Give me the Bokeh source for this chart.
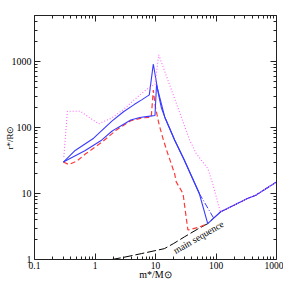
from bokeh.plotting import figure
from bokeh.models import LogAxis, FixedTicker, Label, Range1d, CustomJSTickFormatter
from bokeh.embed import file_html
from bokeh.resources import INLINE

# ---- data ----
ms_m = [1.9, 3.0, 5.9, 14, 20, 30, 50, 73, 118, 331, 453, 1000]
ms_r = [1.0, 1.08, 1.23, 1.46, 1.75, 2.2, 2.9, 3.5, 5.25, 8.4, 9.4, 15]

red_m = [0.3, 0.37, 0.5, 0.7, 1.3, 2.3, 3.9, 6.0, 8.5, 9.2, 10.0, 11.5, 13.5, 16, 20.7, 22, 28.5, 34.3, 53, 73]
red_r = [30, 27.5, 31, 40, 60, 93, 127, 140, 144, 370, 200, 110, 65, 40, 20, 15, 10, 2.8, 3.1, 3.5]

blue_a_m = [0.3, 0.47, 0.95, 1.9, 3.0, 4.5, 5.9, 7.9, 9.2, 11.1, 12.5, 14.2, 20.7, 30, 53, 73, 118, 331, 453, 1000]
blue_a_r = [30, 45, 69, 125, 175, 225, 263, 313, 920, 333, 200, 145, 65, 32, 10, 3.5, 5.25, 8.4, 9.4, 15]

blue_b_m = [0.3, 0.69, 1.3, 1.9, 2.3, 3.9, 5.5, 7.6, 9.8, 10.4, 14.2, 20.7, 30, 53]
blue_b_r = [30, 45, 65, 88, 98, 130, 142, 148, 152, 445, 145, 65, 32, 10]

blue_c_m = [53, 92, 118, 331, 453, 1000]
blue_c_r = [10, 4.2, 5.25, 8.4, 9.4, 15]

mag_m = [0.305, 0.35, 0.57, 1.15, 1.9, 3.0, 5.9, 8.0, 9.8, 11.3, 36.6, 47, 73, 88, 118, 331, 453, 1000]
mag_r = [36, 177, 177, 114, 140, 190, 330, 410, 450, 1270, 65, 40.6, 24, 14.2, 5.25, 8.4, 9.4, 15]

x_major = [0.1, 1, 10, 100, 1000]
y_major = [1, 10, 100, 1000]
x_minor = [k * 10.0 ** d for d in range(-1, 3) for k in range(2, 10)]
y_minor = [k * 10.0 ** d for d in range(0, 4) for k in range(2, 10)]

x_title = "m*/M\u2299"
y_title = "r*/R\u2299"

FONT = "Liberation Serif"

p = figure(width=283, height=283, x_axis_type="log", y_axis_type="log",
           x_range=Range1d(0.1, 1000), y_range=Range1d(1, 5000),
           output_backend="svg", toolbar_location=None,
           min_border_left=34, min_border_right=7, min_border_top=15, min_border_bottom=24)
p.grid.visible = False
p.outline_line_color = None
p.background_fill_color = "white"
p.border_fill_color = "white"

fmt = CustomJSTickFormatter(code="return String(Math.round(tick*10)/10);")


def style(ax, labels=True):
    ax.major_tick_in = 6
    ax.major_tick_out = 0
    ax.minor_tick_in = 3
    ax.minor_tick_out = 0
    ax.axis_line_color = "#222222"
    ax.major_tick_line_color = "#222222"
    ax.minor_tick_line_color = "#222222"
    ax.major_label_text_font = FONT
    ax.major_label_text_color = "black"
    ax.axis_label_text_font = FONT
    ax.axis_label_text_font_style = "normal"
    ax.axis_label_text_color = "black"
    ax.axis_label_text_font_size = "10px"
    if labels:
        ax.major_label_text_font_size = "10px"
        ax.formatter = fmt
    else:
        ax.major_label_text_font_size = "1px"
        ax.major_label_text_alpha = 0
        ax.major_label_standoff = 0


p.xaxis[0].ticker = FixedTicker(ticks=x_major, minor_ticks=x_minor)
p.yaxis[0].ticker = FixedTicker(ticks=y_major, minor_ticks=y_minor)
style(p.xaxis[0])
style(p.yaxis[0])
p.xaxis[0].axis_label = x_title
p.yaxis[0].axis_label = y_title
p.xaxis[0].major_label_text_font_size = "9.5px"
p.xaxis[0].major_label_standoff = 2
p.xaxis[0].axis_label_standoff = -3
p.yaxis[0].major_label_standoff = 3
p.yaxis[0].axis_label_standoff = -6
p.yaxis[0].axis_label_text_font_size = "9px"

top = LogAxis(ticker=FixedTicker(ticks=x_major, minor_ticks=x_minor))
right = LogAxis(ticker=FixedTicker(ticks=y_major, minor_ticks=y_minor))
style(top, labels=False)
style(right, labels=False)
p.add_layout(top, "above")
p.add_layout(right, "right")

p.line(ms_m, ms_r, line_color="black", line_width=1, line_dash="9 3")
p.line(red_m, red_r, line_color="#ff3a3a", line_width=1.2, line_dash="5 3")
p.line(blue_a_m, blue_a_r, line_color="#3a3aff", line_width=1.1)
p.line(blue_b_m, blue_b_r, line_color="#3a3aff", line_width=1.1)
p.line(blue_c_m, blue_c_r, line_color="#3a3aff", line_width=1, line_dash="6 2 1 2")
p.line(mag_m, mag_r, line_color="#ff66ff", line_width=1.1, line_dash="1 2")

p.add_layout(Label(x=51.6, y=2.16, text="main sequence", angle=30, angle_units="deg",
                   text_align="center", text_baseline="middle",
                   text_font_size="9.5px", text_font=FONT, text_color="black"))

open("out.html", "w").write(file_html(p, INLINE))
